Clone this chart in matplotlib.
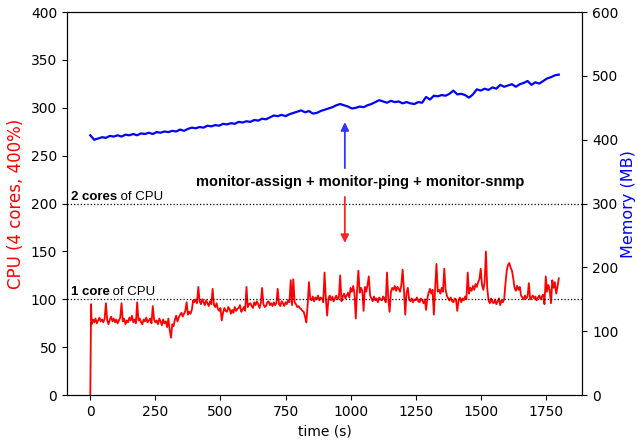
import matplotlib
matplotlib.use("Agg")
import matplotlib.pyplot as plt

# ---- data ----
cpu_time = [0, 3] + list(range(5, 1801, 5))
cpu_usage = [0, 95,
    74, 79, 76, 80, 75, 78, 81, 77, 79, 76,
    80, 96, 78, 74, 79, 82, 77, 80, 76, 79,
    75, 78, 81, 96, 77, 80, 74, 78, 76, 81,
    78, 83, 76, 79, 75, 97, 78, 80, 76, 74,
    79, 77, 81, 76, 78, 80, 75, 93, 79, 76,
    78, 74, 80, 77, 73, 79, 75, 77, 71, 80,
    68, 60, 74, 72, 79, 83, 77, 81, 84, 86,
    82, 85, 88, 97, 84, 87, 85, 89, 99, 97,
    100, 96, 113, 98, 95, 100, 97, 94, 99, 96,
    93, 98, 95, 111, 94, 92, 96, 90, 88, 91,
    78, 86, 91, 88, 87, 92, 90, 85, 89, 86,
    92, 88, 90, 91, 94, 87, 89, 92, 88, 113,
    92, 95, 96, 93, 91, 97, 94, 98, 95, 91,
    96, 112, 95, 92, 93, 97, 98, 94, 96, 93,
    97, 94, 96, 111, 95, 93, 98, 96, 93, 97,
    95, 99, 97, 120, 94, 121, 97, 95, 92, 93,
    91, 90, 88, 87, 82, 76, 94, 118, 101, 99,
    103, 98, 102, 100, 104, 99, 102, 101, 97, 128,
    100, 83, 101, 104, 99, 103, 98, 101, 104, 100,
    102, 125, 98, 103, 106, 101, 104, 107, 102, 112,
    108, 114, 106, 80, 110, 130, 107, 112, 109, 88,
    113, 108, 115, 124, 104, 101, 98, 103, 99, 101,
    97, 102, 100, 99, 103, 101, 97, 128, 100, 87,
    108, 112, 110, 114, 109, 113, 111, 108, 115, 131,
    110, 84, 107, 112, 100, 98, 101, 97, 100, 99,
    102, 98, 97, 101, 99, 96, 100, 89, 101, 107,
    111, 106, 110, 84, 112, 137, 108, 110, 106, 112,
    108, 132, 110, 104, 101, 99, 102, 98, 97, 101,
    100, 88, 99, 102, 97, 101, 99, 103, 100, 128,
    106, 112, 109, 114, 110, 116, 113, 118, 121, 132,
    115, 110, 118, 150, 112, 99, 96, 101, 97, 96,
    100, 95, 98, 101, 94, 99, 97, 100, 116, 130,
    136, 138, 133, 130, 122, 112, 109, 114, 110, 113,
    104, 102, 100, 104, 101, 103, 117, 100, 102, 104,
    101, 103, 99, 102, 104, 100, 103, 105, 95, 124,
    108, 115, 110, 96, 120, 112, 118, 106, 113, 122]

mem_time = list(range(0, 1801, 15))
mem_usage = [
    407, 400, 402, 404, 403, 406, 405, 407, 405, 408,
    407, 409, 407, 410, 409, 411, 409, 412, 411, 413,
    412, 414, 413, 416, 414, 417, 419, 418, 420, 419,
    422, 421, 423, 422, 425, 424, 426, 425, 428, 427,
    429, 428, 431, 430, 433, 432, 435, 438, 437, 439,
    437, 440, 442, 444, 446, 443, 445, 441, 442, 445,
    447, 449, 451, 454, 456, 454, 452, 449, 450, 452,
    451, 454, 456, 459, 462, 460, 458, 461, 459, 460,
    457, 459, 457, 456, 459, 458, 467, 463, 469, 468,
    470, 469, 472, 477, 471, 472, 470, 466, 471, 479,
    477, 480, 478, 482, 480, 486, 483, 485, 487, 483,
    487, 489, 492, 486, 490, 488, 492, 496, 498, 501,
    502]

core_levels = [100, 200]
core_bold = ["1 core", "2 cores"]
annot_text = "monitor-assign + monitor-ping + monitor-snmp"

# ---- figure ----
fig = plt.figure(figsize=(6.37, 4.47), dpi=100)
ax = fig.add_axes([0.105, 0.116, 0.809, 0.857])
ax2 = ax.twinx()

ax.plot(cpu_time, cpu_usage, color="red", lw=1.3)
ax2.plot(mem_time, mem_usage, color="blue", lw=1.6)

ax.set_ylim(0, 400)
ax2.set_ylim(0, 600)
ax.set_xlim(-90, 1890)

for lvl, b in zip(core_levels, core_bold):
    ax.axhline(lvl, color="black", ls=":", lw=0.9)
    t1 = ax.text(-76, lvl + 1, b, fontsize=9.5, fontweight="bold",
                 family="Liberation Sans", va="bottom", ha="left")
    ax.annotate(" of CPU", xy=(1, 0), xycoords=t1, fontsize=9.5,
                family="Liberation Sans", va="bottom", ha="left")

ax.text(1037, 223, annot_text, fontsize=10.5, fontweight="bold",
        family="Liberation Sans", ha="center", va="center")
ax.annotate("", xy=(978, 285), xytext=(978, 237),
            arrowprops=dict(arrowstyle="-|>", color="#3333ff", lw=1.3,
                            mutation_scale=12, shrinkA=0, shrinkB=0))
ax.annotate("", xy=(978, 159), xytext=(978, 207),
            arrowprops=dict(arrowstyle="-|>", color="#ff2222", lw=1.3,
                            mutation_scale=12, shrinkA=0, shrinkB=0))

ax.set_xlabel("time (s)", fontsize=10)
ax.set_ylabel("CPU (4 cores, 400%)", color="red", fontsize=12)
ax2.set_ylabel("Memory (MB)", color="blue", fontsize=11.5, labelpad=2)
ax.tick_params(labelsize=10)
ax2.tick_params(labelsize=10)

fig.savefig("out.png", dpi=100)
